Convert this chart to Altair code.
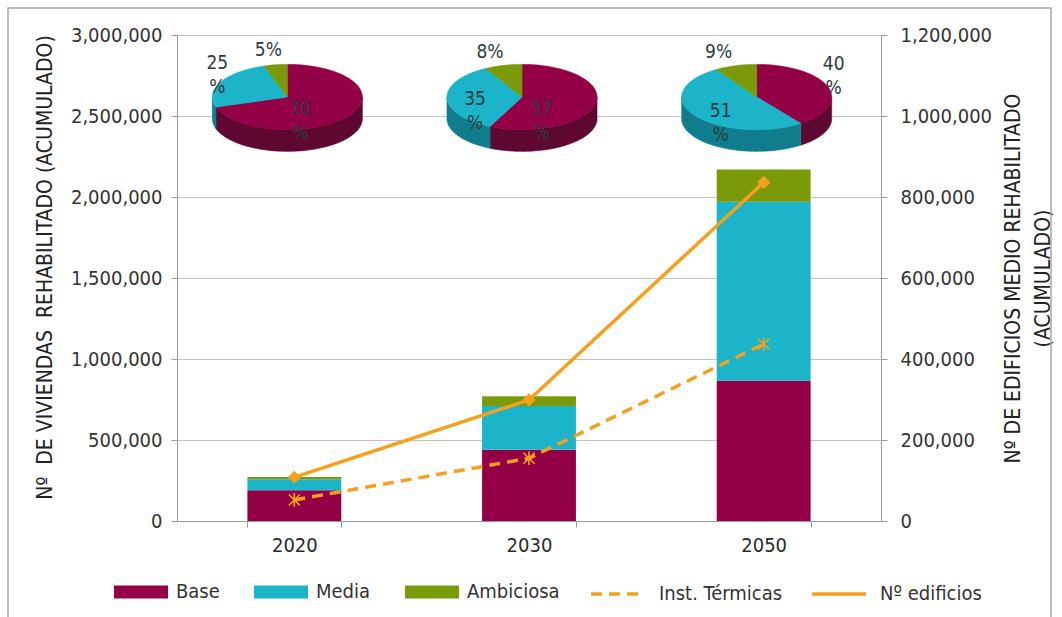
import altair as alt
import numpy as np
import pandas as pd

# ---- data -------------------------------------------------------------
YEARS = ["2020", "2030", "2050"]
SERIES = ["Base", "Media", "Ambiciosa"]
BASE = [190000, 440000, 865000]
MEDIA = [68000, 270000, 1105000]
AMBICIOSA = [14000, 60000, 200000]

# share of each scenario per year (pie charts), same order as SERIES
PIE_2020 = [70, 25, 5]
PIE_2030 = [57, 35, 8]
PIE_2050 = [40, 51, 9]

LINE_SERIES = ["Inst. Térmicas", "Nº edificios"]
INST_TERMICAS = [52000, 155000, 437000]
N_EDIFICIOS = [108000, 299000, 836000]

# ---- styling ----------------------------------------------------------
FONT = "DejaVu Sans Condensed, DejaVu Sans"
TXT = "#333333"
BAR_COLORS = ["#940046", "#1cb4c8", "#7a9a0a"]
SIDE_COLORS = ["#5e0730", "#0f7d8c", "#556b06"]
ORANGE = "#f5a01e"
GRID = "#c3c3c3"
AXIS = "#9a9a9a"
NBSP = "\u00a0"

W, H = 704, 486

# ---- bar table ----------------------------------------------------------
bar_rows = []
for i, yr in enumerate(YEARS):
    for k, (s, vals) in enumerate(zip(SERIES, [BASE, MEDIA, AMBICIOSA])):
        bar_rows.append({"year": yr, "series": s, "value": vals[i], "k": k})
bars_df = pd.DataFrame(bar_rows)

# ---- pseudo 3D pies as custom symbol paths --------------------------------
KY = 0.435     # vertical squash of the pie top
DEPTH = 0.29   # thickness of the pie rim


def rim(a, b, dy=0.0):
    n = max(2, int(np.ceil((b - a) / 2.0)) + 1)
    ts = np.radians(np.linspace(a, b, n))
    return [(np.sin(t), -np.cos(t) * KY + dy) for t in ts]


def to_path(pts, start_center=False):
    body = "L".join(f"{x:.4f},{y:.4f}" for x, y in pts)
    return ("M0,0L" + body if start_center else "M" + body) + "Z"


pie_tops, pie_sides = [], []
for yr, pcts in zip(YEARS, [PIE_2020, PIE_2030, PIE_2050]):
    start = 0.0
    for k, p in enumerate(pcts):
        end = start + p / sum(pcts) * 360.0
        pie_tops.append({"year": yr, "path": to_path(rim(start, end), True),
                         "fill": BAR_COLORS[k]})
        lo, hi = max(start, 90.0), min(end, 270.0)
        if lo < hi:
            pts = rim(lo, hi) + rim(lo, hi, DEPTH)[::-1]
            pie_sides.append({"year": yr, "path": to_path(pts), "fill": SIDE_COLORS[k]})
        start = end
tops_df = pd.DataFrame(pie_tops)
sides_df = pd.DataFrame(pie_sides)

# ---- lines table ---------------------------------------------------------
MARK_X = "M-1,-1L1,1M-1,1L1,-1M0,-1.25L0,1.25"
line_rows = []
for i, yr in enumerate(YEARS):
    line_rows.append({"year": yr, "series": LINE_SERIES[0], "value": INST_TERMICAS[i], "shape": MARK_X})
    line_rows.append({"year": yr, "series": LINE_SERIES[1], "value": N_EDIFICIOS[i], "shape": "diamond"})
lines_df = pd.DataFrame(line_rows)

# ---- scales / axes --------------------------------------------------------
x_enc = alt.X(
    "year:N", sort=YEARS,
    scale=alt.Scale(paddingInner=0.6, paddingOuter=0.3),
    axis=alt.Axis(title=None, labelAngle=0, tickBand="extent", tickSize=6,
                  labelPadding=8, labelFontSize=20, labelColor="#2a2a2a",
                  labelFont=FONT, domainColor=AXIS, tickColor=AXIS, grid=False),
)

LEG_A = alt.Legend(
    title=None, orient="none", legendX=-63, legendY=530, direction="horizontal",
    columns=3, symbolType="M-1,-0.24L1,-0.24L1,0.24L-1,0.24Z", symbolSize=2916,
    symbolStrokeWidth=0, labelFont=FONT, labelFontSize=20, labelColor=TXT,
    labelOffset=8, columnPadding=34,
)

left_title = f"Nº{NBSP} DE VIVIENDAS{NBSP} REHABILITADO (ACUMULADO)"

bars = alt.Chart(bars_df).mark_bar().encode(
    x=x_enc,
    y=alt.Y(
        "value:Q", stack="zero",
        scale=alt.Scale(domain=[0, 3000000]),
        axis=alt.Axis(
            values=[0, 500000, 1000000, 1500000, 2000000, 2500000, 3000000],
            labelExpr="format(datum.value, ',')", orient="left", grid=True,
            gridColor=GRID, domainColor=AXIS, tickColor=AXIS, tickSize=6,
            labelPadding=9, labelFont=FONT, labelFontSize=20, labelColor=TXT,
            title=left_title,
            titleFont=FONT, titleFontSize=21, titleFontWeight="normal",
            titleColor="#222", titleAngle=270, titleX=-132, titleY=232,
            titleAlign="center", titleBaseline="middle",
        ),
    ),
    color=alt.Color("series:N", scale=alt.Scale(domain=SERIES, range=BAR_COLORS),
                    legend=LEG_A),
    order=alt.Order("k:Q"),
)

PIE_Y = 62
PIE_DX = -7
PIE_SIZE = 150 ** 2

sides = alt.Chart(sides_df).mark_point(
    filled=True, opacity=1, strokeWidth=0.6, xOffset=PIE_DX
).encode(
    x=x_enc, y=alt.value(PIE_Y),
    shape=alt.Shape("path:N", scale=None),
    fill=alt.Fill("fill:N", scale=None),
    stroke=alt.Stroke("fill:N", scale=None),
    size=alt.value(PIE_SIZE),
)
tops = alt.Chart(tops_df).mark_point(
    filled=True, opacity=1, strokeWidth=0.6, xOffset=PIE_DX
).encode(
    x=x_enc, y=alt.value(PIE_Y),
    shape=alt.Shape("path:N", scale=None),
    fill=alt.Fill("fill:N", scale=None),
    stroke=alt.Stroke("fill:N", scale=None),
    size=alt.value(PIE_SIZE),
)

# pie percentage labels: centre of each label block, relative to its pie centre
LABEL_OFFSETS = {
    "2020": [(13, 24), (-70, -22), (-19, -47)],
    "2030": [(20, 24), (-47, 14), (-32, -45)],
    "2050": [(77, -21), (-36, 26), (-38, -45)],
}
LINE_H = 24
label_layers = []
for yr, pcts in zip(YEARS, [PIE_2020, PIE_2030, PIE_2050]):
    for k, p in enumerate(pcts):
        two_lines = p >= 10
        txt = f"{p}\n%" if two_lines else f"{p}%"
        dx, dy = LABEL_OFFSETS[yr][k]
        if two_lines:
            dy -= LINE_H / 2
        label_layers.append(
            alt.Chart(pd.DataFrame({"year": [yr], "t": [txt]})).mark_text(
                dx=dx + PIE_DX, dy=dy, lineBreak="\n", lineHeight=LINE_H, font=FONT,
                fontSize=19, color="#2e3b40", align="center", baseline="middle",
            ).encode(x=x_enc, y=alt.value(PIE_Y), text="t:N")
        )

# ---- lines on the right axis ------------------------------------------------
y_right = alt.Y(
    "value:Q", scale=alt.Scale(domain=[0, 1200000]),
    axis=alt.Axis(
        values=[0, 200000, 400000, 600000, 800000, 1000000, 1200000],
        labelExpr="format(datum.value, ',')", orient="right", grid=False,
        domainColor=AXIS, tickColor=AXIS, tickSize=6, labelPadding=13,
        labelFont=FONT, labelFontSize=20, labelColor=TXT,
        title=["Nº DE EDIFICIOS MEDIO REHABILITADO", "(ACUMULADO)"],
        titleFont=FONT, titleFontSize=21, titleFontWeight="normal",
        titleColor="#222", titleAngle=270, titleX=132, titleY=H / 2,
        titleAlign="center", titleBaseline="middle", titleLineHeight=30,
    ),
)

LEG_B = alt.Legend(
    title=None, orient="none", legendX=412, legendY=530, direction="horizontal",
    columns=2, symbolType="stroke", symbolSize=2916, symbolStrokeWidth=3.5,
    symbolStrokeColor=ORANGE, labelFont=FONT, labelFontSize=20, labelColor=TXT,
    labelOffset=12, columnPadding=22,
)

line_layer = alt.Chart(lines_df).mark_line(color=ORANGE, strokeWidth=3.5).encode(
    x=x_enc, y=y_right,
    strokeDash=alt.StrokeDash(
        "series:N", scale=alt.Scale(domain=LINE_SERIES, range=[[11, 7], [1, 0]]),
        legend=LEG_B,
    ),
)
markers = alt.Chart(lines_df).mark_point(
    filled=True, fill=ORANGE, stroke=ORANGE, strokeWidth=1.6, opacity=1
).encode(
    x=x_enc, y=alt.Y("value:Q"),
    shape=alt.Shape("shape:N", scale=None),
    size=alt.value(120),
)
lines = alt.layer(line_layer, markers)

# thin frame around the whole figure
frame = alt.Chart(pd.DataFrame({"a": [0]})).mark_rect(
    fill=None, stroke="#a8a8a8", strokeWidth=1.5, clip=False
).encode(x=alt.value(-169), x2=alt.value(874), y=alt.value(-27), y2=alt.value(600))

chart = alt.layer(
    bars, sides, tops, *label_layers, lines, frame
).resolve_scale(y="independent").properties(
    width=W, height=H,
    padding={"left": 177, "top": 35, "right": 181, "bottom": 96},
    autosize=alt.AutoSizeParams(type="none"),
).configure_view(stroke=None).configure(background="white")

chart.save("out.html", embed_options={"renderer": "svg", "actions": False})
